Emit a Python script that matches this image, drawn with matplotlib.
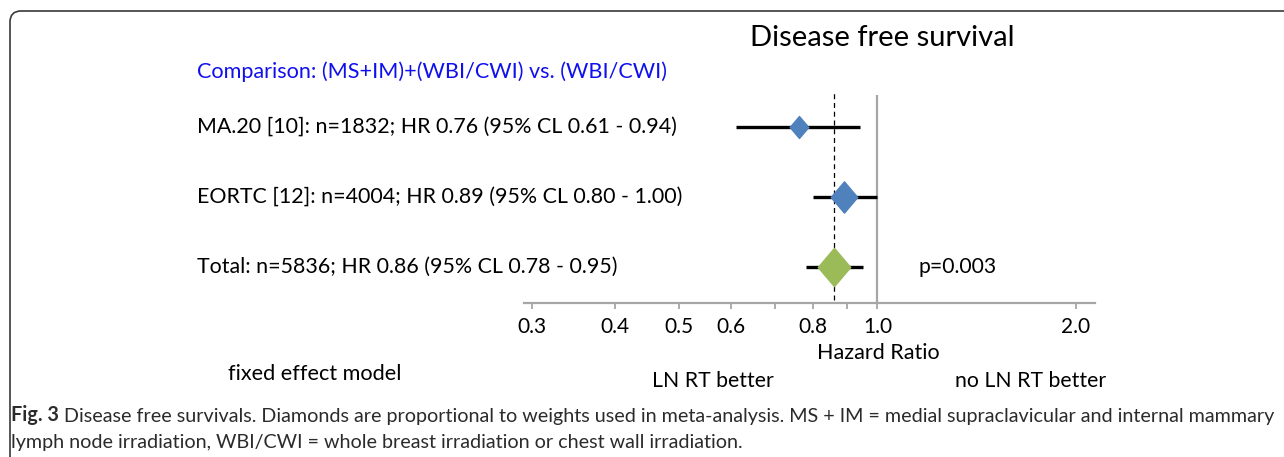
import matplotlib
matplotlib.use('Agg')
import matplotlib.pyplot as plt
from matplotlib.patches import FancyBboxPatch
from matplotlib.path import Path
from matplotlib.ticker import NullLocator
from matplotlib.transforms import IdentityTransform, blended_transform_factory

plt.rcParams['font.family'] = ['Lato', 'DejaVu Sans']

# studies, top to bottom
labels = ['MA.20 [10]: n=1832; HR 0.76 (95% CL 0.61 - 0.94)',
          'EORTC [12]: n=4004; HR 0.89 (95% CL 0.80 - 1.00)',
          'Total: n=5836; HR 0.86 (95% CL 0.78 - 0.95)']
hr = [0.76, 0.89, 0.86]
ci_low = [0.61, 0.80, 0.78]
ci_high = [0.94, 1.00, 0.95]
weights = [0.33, 0.67, 1.0]
pooled_hr = 0.86
p_value = 'p=0.003'
tick_vals = [0.3, 0.4, 0.5, 0.6, 0.7, 0.8, 0.9, 1.0, 2.0]
tick_labels = ['0.3', '0.4', '0.5', '0.6', '', '0.8', '', '1.0', '2.0']

W, H = 1284, 457
fig = plt.figure(figsize=(W / 100, H / 100), dpi=100)


def fx(px):
    return px / W


def fy(py):
    return 1 - py / H


# frame round the figure (open to the right and bottom)
frame = FancyBboxPatch((10, -40), W + 40, H - 10 + 40 - 1,
                       boxstyle='round,pad=0,rounding_size=11',
                       transform=IdentityTransform(), fill=False,
                       ec='#3a3a3a', lw=1.2)
fig.patches.append(frame)

ax = fig.add_axes([fx(524), fy(303.3), fx(1095) - fx(524), fy(90) - fy(303.3)])
ax.set_xscale('log')
ax.set_xlim(0.2915, 2.137)
ax.set_ylim(0.477, 3.524)

rows = [3, 2, 1]
colors = ['#4F81BD', '#4F81BD', '#9BBB59']
diamond = Path([(0, 1), (0.85, 0), (0, -1), (-0.85, 0), (0, 1)], closed=True)

ax.vlines(1.0, 0.477, 3.453, color='#A6A6A6', lw=1.6, zorder=1)
ax.vlines(pooled_hr, 0.52, 3.48, color='black', lw=0.9,
          linestyles=(0, (4, 3)), zorder=1)

for y, h, lo, hi, w, c in zip(rows, hr, ci_low, ci_high, weights, colors):
    ax.hlines(y, lo, hi, color='black', lw=2.4, zorder=2)
    ax.plot(h, y, marker=diamond, ms=27.5 * w ** 0.5, color=c,
            mec=c, ls='none', zorder=3)

for s in ['top', 'left', 'right']:
    ax.spines[s].set_visible(False)
ax.spines['bottom'].set_color('#A6A6A6')
ax.spines['bottom'].set_linewidth(1.6)
ax.set_xticks(tick_vals)
ax.set_xticklabels(tick_labels)
ax.xaxis.set_minor_locator(NullLocator())
ax.set_yticks([])
ax.tick_params(axis='x', direction='out', length=4, width=1.3,
               color='#A6A6A6', labelsize=15, pad=6)
ax.patch.set_alpha(0)

# texts
row_tr = blended_transform_factory(fig.transFigure, ax.transData)
for y, lab in zip(rows, labels):
    fig.text(fx(197), y, lab, transform=row_tr, fontsize=15.4,
             va='center', ha='left')
fig.text(fx(918), rows[2], p_value, transform=row_tr, fontsize=15.2,
         va='center', ha='left')

fig.text(fx(197), fy(72), 'Comparison: (MS+IM)+(WBI/CWI) vs. (WBI/CWI)',
         color='#1010ee', fontsize=15.6, va='center', ha='left')
fig.text(fx(882), fy(38), 'Disease free survival', fontsize=21,
         va='center', ha='center')
fig.text(fx(878), fy(353), 'Hazard Ratio', fontsize=15.5,
         va='center', ha='center')
fig.text(fx(228), fy(374), 'fixed effect model', fontsize=15.6,
         va='center', ha='left')
fig.text(fx(713), fy(381), 'LN RT better', fontsize=15.3,
         va='center', ha='center')
fig.text(fx(955), fy(381), 'no LN RT better', fontsize=15.3,
         va='center', ha='left')

# caption
cap_kw = dict(fontsize=14.2, color='#2b2b2b', ha='left')
t1 = fig.text(fx(11), fy(421), 'Fig. 3', weight='bold', va='baseline', **cap_kw)
ax.annotate(' Disease free survivals. Diamonds are proportional to weights used in '
            'meta-analysis. MS + IM = medial supraclavicular and internal mammary',
            xy=(1, 0), xycoords=t1, xytext=(0, 0), textcoords='offset points',
            va='bottom', annotation_clip=False, **cap_kw)
fig.text(fx(11), fy(448), 'lymph node irradiation, WBI/CWI = whole breast '
         'irradiation or chest wall irradiation.', va='baseline', **cap_kw)

fig.savefig('out.png', dpi=100)
